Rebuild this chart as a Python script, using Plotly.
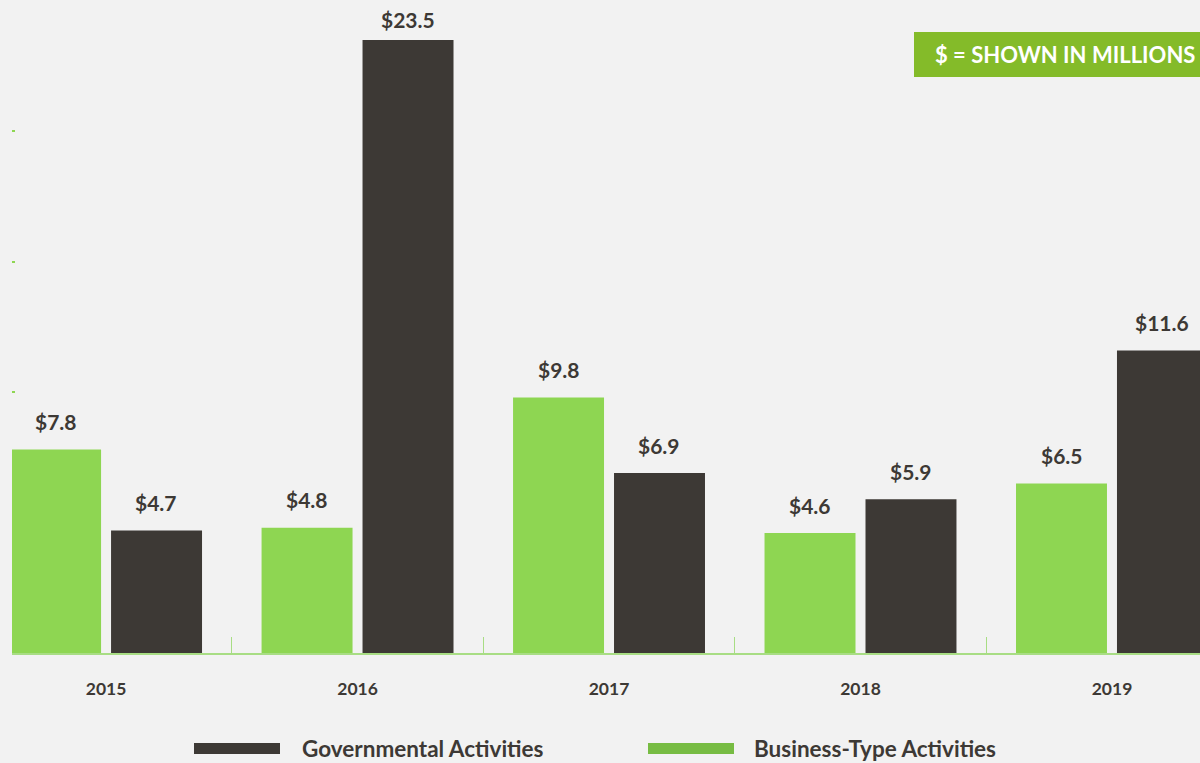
import plotly.graph_objects as go

years = ["2015", "2016", "2017", "2018", "2019"]
business = [7.8, 4.8, 9.8, 4.6, 6.5]
governmental = [4.7, 23.5, 6.9, 5.9, 11.6]

GREEN = "#8ed652"
DARK = "#3d3935"
BG = "#f2f2f2"
FONT = "Lato"

W, H = 1200, 763
ML, MR, MT, MB = 12, 0, 1, 110


def px_x(p):
    return (p - ML) / (W - ML - MR)


def px_y(p):
    return (H - MB - p) / (H - MT - MB)


fig = go.Figure()
fig.add_trace(go.Bar(x=years, y=business, name="Business-Type Activities",
                     marker=dict(color=GREEN, line=dict(width=0))))
fig.add_trace(go.Bar(x=years, y=governmental, name="Governmental Activities",
                     marker=dict(color=DARK, line=dict(width=0))))

# value labels above each bar (the tallest one sits closer, near the top edge)
for i, (b, g) in enumerate(zip(business, governmental)):
    for off, v in ((-0.2, b), (0.2, g)):
        fig.add_annotation(x=i + off, y=v, text=f"<b>${v:.1f}</b>", showarrow=False,
                           yanchor="middle", yshift=21 if v > 20 else 28,
                           font=dict(family=FONT, size=21, color=DARK))

# "$ = shown in millions" badge
fig.add_shape(type="rect", xref="paper", yref="paper",
              x0=px_x(914), x1=px_x(1205), y0=px_y(77), y1=px_y(32),
              fillcolor="#84bb29", line=dict(width=0), layer="above")
fig.add_annotation(xref="paper", yref="paper", x=px_x(933), y=px_y(54.5),
                   xanchor="left", yanchor="middle", showarrow=False,
                   text="<b>$ = SHOWN IN MILLIONS</b>",
                   font=dict(family=FONT, size=22, color="white"))

# custom legend
legend_items = [("Governmental Activities", DARK, 194, 280, 300),
                ("Business-Type Activities", "#77bc43", 648, 734, 752)]
for label, col, x0, x1, tx in legend_items:
    fig.add_shape(type="rect", xref="paper", yref="paper",
                  x0=px_x(x0), x1=px_x(x1), y0=px_y(754), y1=px_y(743),
                  fillcolor=col, line=dict(width=0))
    fig.add_annotation(xref="paper", yref="paper", x=px_x(tx), y=px_y(748),
                       xanchor="left", yanchor="middle", showarrow=False,
                       text=f"<b>{label}</b>",
                       font=dict(family=FONT, size=22.5, color=DARK))

fig.update_layout(
    width=W, height=H,
    margin=dict(l=ML, r=MR, t=MT, b=MB),
    paper_bgcolor=BG, plot_bgcolor=BG,
    barmode="group", bargap=0.197, bargroupgap=0.099,
    showlegend=False,
    font=dict(family=FONT, color=DARK),
)
fig.update_xaxes(
    range=[-0.374, 4.35],
    showline=True, linecolor="#a8dd84", linewidth=2,
    tickson="boundaries", ticks="inside", ticklen=16, tickwidth=1, tickcolor="#a8dd84",
    ticklabelstandoff=19,
    tickfont=dict(family=FONT, size=17.5, color=DARK, weight="bold"),
    showgrid=False, zeroline=False,
)
fig.update_yaxes(
    range=[0, 25], dtick=5,
    showticklabels=False, ticks="inside", ticklen=3, tickwidth=1.5, tickcolor="#8ed652",
    showgrid=False, zeroline=False, showline=False,
)

fig.write_html("out.html", config={"displayModeBar": False},
               post_script="document.body.style.margin='0';")
